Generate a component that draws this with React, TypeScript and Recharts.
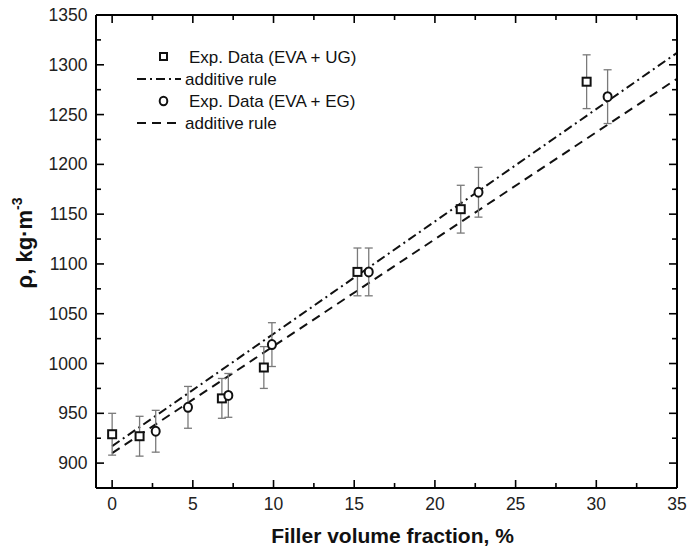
import React from 'react';
import { ComposedChart, Scatter, Line, XAxis, YAxis, ErrorBar, Legend } from 'recharts';

const FONT = '"Liberation Sans", Arial, Helvetica, sans-serif';

// Experimental data EVA + UG
const ugX = [0, 1.7, 6.8, 9.4, 15.2, 21.6, 29.4];
const ugY = [929, 927, 965, 996, 1092, 1155, 1283];
const ugErr = [21, 20, 20, 21, 24, 24, 27];

// Experimental data EVA + EG
const egX = [2.7, 4.7, 7.2, 9.9, 15.9, 22.7, 30.7];
const egY = [932, 956, 968, 1019, 1092, 1172, 1268];
const egErr = [21, 21, 22, 22, 24, 25, 27];

// additive rule lines (endpoints)
const ruleUGX = [0, 35];
const ruleUGY = [917, 1312];
const ruleEGX = [0, 35];
const ruleEGY = [910, 1286];

const xTicks = [0, 2.5, 5, 7.5, 10, 12.5, 15, 17.5, 20, 22.5, 25, 27.5, 30, 32.5, 35];
const yTicks = [900, 925, 950, 975, 1000, 1025, 1050, 1075, 1100, 1125, 1150, 1175, 1200, 1225, 1250, 1275, 1300, 1325, 1350];

const ugData = ugX.map((x, i) => ({ x, y: ugY[i], err: ugErr[i] }));
const egData = egX.map((x, i) => ({ x, y: egY[i], err: egErr[i] }));
const ruleUG = ruleUGX.map((x, i) => ({ x, y: ruleUGY[i] }));
const ruleEG = ruleEGX.map((x, i) => ({ x, y: ruleEGY[i] }));

const isMajorX = (v: number) => Math.abs(v % 5) < 1e-6;
const isMajorY = (v: number) => Math.abs(v % 50) < 1e-6;

const BottomTick = (p: any) => {
  const v = p.payload.value;
  const major = isMajorX(v);
  return (
    <g>
      <line x1={p.x} x2={p.x} y1={p.y} y2={p.y - (major ? 8 : 5)} stroke="#000" strokeWidth={1.6} />
      {major && (
        <text x={p.x} y={p.y + 21.5} textAnchor="middle" fontSize={17.5} fontFamily={FONT} fill="#222">
          {v}
        </text>
      )}
    </g>
  );
};

const TopTick = (p: any) => {
  const v = p.payload.value;
  const major = isMajorX(v);
  return <line x1={p.x} x2={p.x} y1={p.y} y2={p.y + (major ? 8 : 5)} stroke="#000" strokeWidth={1.6} />;
};

const LeftTick = (p: any) => {
  const v = p.payload.value;
  const major = isMajorY(v);
  return (
    <g>
      <line x1={p.x} x2={p.x + (major ? 8 : 5)} y1={p.y} y2={p.y} stroke="#000" strokeWidth={1.6} />
      {major && (
        <text x={p.x - 8.5} y={p.y + 6} textAnchor="end" fontSize={17.5} fontFamily={FONT} fill="#222">
          {v}
        </text>
      )}
    </g>
  );
};

const RightTick = (p: any) => {
  const v = p.payload.value;
  const major = isMajorY(v);
  return <line x1={p.x} x2={p.x - (major ? 8 : 5)} y1={p.y} y2={p.y} stroke="#000" strokeWidth={1.6} />;
};

const SquareShape = (p: any) => (
  <rect x={p.cx - 4} y={p.cy - 4} width={8} height={8} fill="#fff" stroke="#111" strokeWidth={2} />
);
const CircleShape = (p: any) => (
  <ellipse cx={p.cx} cy={p.cy} rx={4} ry={4.5} fill="#fff" stroke="#111" strokeWidth={2} />
);

const LegendContent = () => (
  <svg width={270} height={100} style={{ display: 'block' }}>
    <g fontFamily={FONT} fontSize={17} fill="#111">
      <rect x={30} y={8} width={7} height={7} fill="#fff" stroke="#111" strokeWidth={2} />
      <text x={59} y={18}>Exp. Data (EVA + UG)</text>
      <line x1={7} x2={51} y1={34} y2={34} stroke="#111" strokeWidth={2} strokeDasharray="9 4 2 4" />
      <text x={55} y={40}>additive rule</text>
      <ellipse cx={33.5} cy={56} rx={3.8} ry={4.2} fill="#fff" stroke="#111" strokeWidth={2} />
      <text x={59} y={62}>Exp. Data (EVA + EG)</text>
      <line x1={7} x2={51} y1={78} y2={78} stroke="#111" strokeWidth={2} strokeDasharray="9 6" />
      <text x={55} y={84}>additive rule</text>
    </g>
  </svg>
);

const YLabel = () => {
  const cx = 32;
  const cy = 243;
  return (
    <text
      x={cx}
      y={cy}
      transform={`rotate(-90 ${cx} ${cy})`}
      textAnchor="middle"
      fontFamily={FONT}
      fontWeight="bold"
      fontSize={22}
      fill="#111"
    >
      ρ, kg·m
      <tspan dy={-10} fontSize={14}>-3</tspan>
    </text>
  );
};

export default function App() {
  return (
    <div style={{ position: 'absolute', left: 0, top: 0, width: 687, height: 550, background: '#fff' }}>
      <ComposedChart
        width={687}
        height={550}
        margin={{ top: 0, right: 0, left: 0, bottom: 0 }}
      >
        <XAxis
          xAxisId="b"
          dataKey="x"
          type="number"
          domain={[-1, 35]}
          ticks={xTicks}
          interval={0}
          allowDataOverflow
          height={62}
          tickSize={0}
          tickMargin={0}
          tickLine={false}
          tick={<BottomTick />}
          axisLine={{ stroke: '#000', strokeWidth: 2 }}
          label={{
            value: 'Filler volume fraction, %',
            position: 'insideBottom',
            offset: 7,
            fontFamily: FONT,
            fontWeight: 'bold',
            fontSize: 21,
            fill: '#111',
            dx: 6,
          }}
        />
        <XAxis
          xAxisId="t"
          dataKey="x"
          type="number"
          orientation="top"
          domain={[-1, 35]}
          ticks={xTicks}
          interval={0}
          allowDataOverflow
          height={15}
          tickSize={0}
          tickMargin={0}
          tickLine={false}
          tick={<TopTick />}
          axisLine={{ stroke: '#000', strokeWidth: 2 }}
        />
        <YAxis
          yAxisId="l"
          type="number"
          domain={[875, 1350]}
          ticks={yTicks}
          interval={0}
          allowDataOverflow
          width={96}
          tickSize={0}
          tickMargin={0}
          tickLine={false}
          tick={<LeftTick />}
          axisLine={{ stroke: '#000', strokeWidth: 2 }}
          label={{ content: <YLabel /> }}
        />
        <YAxis
          yAxisId="r"
          orientation="right"
          type="number"
          domain={[875, 1350]}
          ticks={yTicks}
          interval={0}
          allowDataOverflow
          width={10}
          tickSize={0}
          tickMargin={0}
          tickLine={false}
          tick={<RightTick />}
          axisLine={{ stroke: '#000', strokeWidth: 2 }}
        />
        <Legend
          layout="horizontal"
          verticalAlign="middle"
          align="center"
          content={<LegendContent />}
          wrapperStyle={{ position: 'absolute', left: 130, top: 45, width: 270, height: 100 }}
        />
        <Line
          xAxisId="b"
          yAxisId="l"
          data={ruleUG}
          dataKey="y"
          stroke="#111"
          strokeWidth={2}
          strokeDasharray="9 4 2 4"
          dot={false}
          activeDot={false}
          isAnimationActive={false}
          legendType="none"
        />
        <Line
          xAxisId="b"
          yAxisId="l"
          data={ruleEG}
          dataKey="y"
          stroke="#111"
          strokeWidth={2}
          strokeDasharray="9 6"
          dot={false}
          activeDot={false}
          isAnimationActive={false}
          legendType="none"
        />
        <Scatter
          xAxisId="b"
          yAxisId="l"
          data={ugData}
          dataKey="y"
          shape={<SquareShape />}
          isAnimationActive={false}
        >
          <ErrorBar dataKey="err" direction="y" width={4} stroke="#7a7a7a" strokeWidth={1.3} />
        </Scatter>
        <Scatter
          xAxisId="b"
          yAxisId="l"
          data={egData}
          dataKey="y"
          shape={<CircleShape />}
          isAnimationActive={false}
        >
          <ErrorBar dataKey="err" direction="y" width={4} stroke="#7a7a7a" strokeWidth={1.3} />
        </Scatter>
      </ComposedChart>
    </div>
  );
}
